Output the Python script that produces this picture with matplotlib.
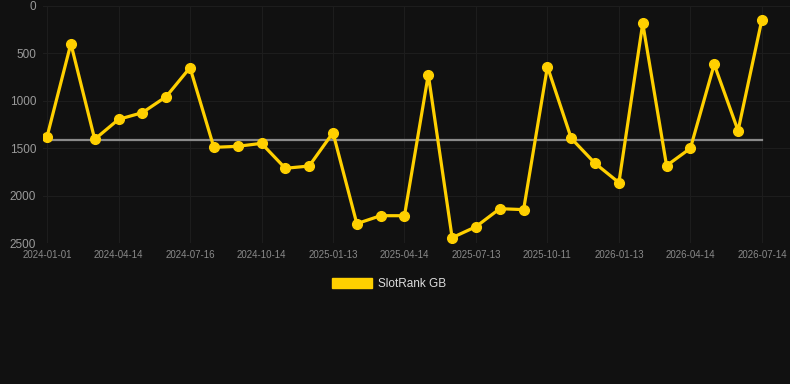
import matplotlib.pyplot as plt
from matplotlib.patches import Patch

plt.rcParams['font.family'] = ['Liberation Sans', 'DejaVu Sans']

# monthly ranks (lower is better, axis inverted)
ranks = [1378, 397, 1406, 1196, 1125, 956, 650, 1491, 1480, 1449,
         1712, 1688, 1336, 2296, 2212, 2212, 724, 2444, 2328, 2138,
         2148, 640, 1396, 1660, 1863, 183, 1684, 1501, 615, 1315, 144]
tick_labels = ["2024-01-01", "2024-04-14", "2024-07-16", "2024-10-14", "2025-01-13",
               "2025-04-14", "2025-07-13", "2025-10-11", "2026-01-13", "2026-04-14",
               "2026-07-14"]
average = 1417
series_name = "SlotRank GB"

bg = "#111111"
yellow = "#ffd000"

fig = plt.figure(figsize=(7.9, 3.84), dpi=100, facecolor=bg)
ax = fig.add_axes([43/790, 1 - 243/384, 1 - 43/790, (243 - 6)/384])
ax.set_facecolor(bg)

x = list(range(len(ranks)))
ax.plot([x[0], x[-1]], [average, average], color="#8a8a8a", lw=1.6, zorder=2)
ax.plot(x, ranks, color=yellow, lw=2.3, marker="o", ms=7, zorder=3)

ax.set_xlim(-0.17, 31.18)
ax.set_ylim(2500, 0)
ax.set_yticks([0, 500, 1000, 1500, 2000, 2500])
ax.set_xticks(x[::3])
ax.set_xticklabels(tick_labels)
ax.tick_params(axis="y", colors="#9a9a9a", labelsize=8.5, length=0, pad=5)
ax.tick_params(axis="x", colors="#8a8a8a", labelsize=7, length=0, pad=5)
ax.grid(True, color="#1d1d1d", lw=0.8, zorder=0)
for s in ax.spines.values():
    s.set_visible(False)

fig.legend(handles=[Patch(color=yellow, label=series_name)], loc="center",
           bbox_to_anchor=(0.5 - 6/790, 1 - 284/384), frameon=False, fontsize=8.5,
           labelcolor="#dddddd", handlelength=3.4, handleheight=0.95, handletextpad=0.5)

fig.savefig("out.png", dpi=100, facecolor=bg)
